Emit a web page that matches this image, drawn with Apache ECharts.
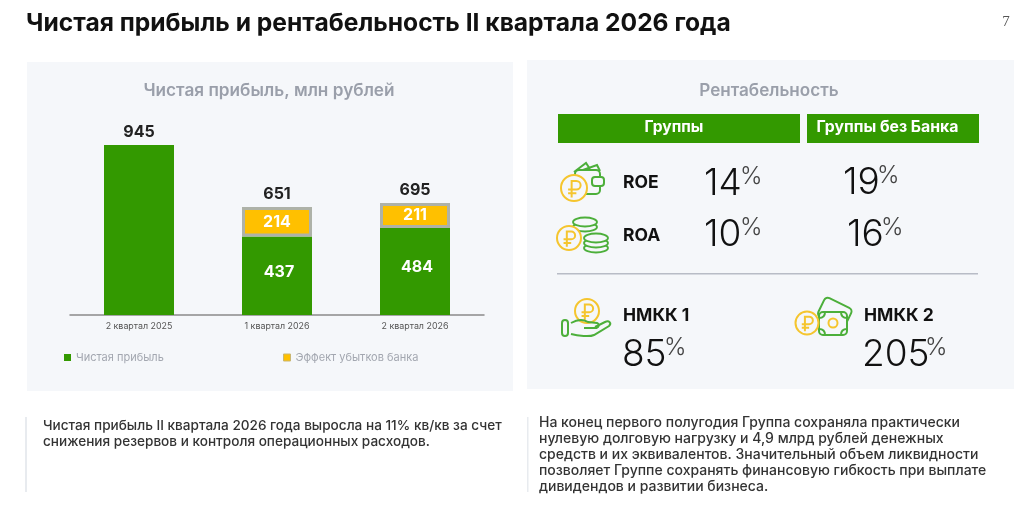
<!DOCTYPE html>
<html><head><meta charset="utf-8">
<style>html,body{margin:0;padding:0;background:#fff}#c{width:1024px;height:524px}</style>
<script src="https://cdn.jsdelivr.net/npm/echarts@6/dist/echarts.min.js"></script>
</head><body><div id="c"></div>
<script>
const categories = ['2 квартал 2025', '1 квартал 2026', '2 квартал 2026'];
const netProfit = [945, 437, 484];
// Heights of the yellow blocks as drawn in the picture (the source slide does not draw them to scale)
const bankEffectDrawn = [null, 163, 138];
const bankEffectLabels = ['', '214', '211'];
const totalLabels = ['945', '651', '695'];
const seriesNames = ['Чистая прибыль', 'Эффект убытков банка'];
const pageTitle = 'Чистая прибыль и рентабельность II квартала 2026 года';
const pageNumber = '7';
const chartTitle = 'Чистая прибыль, млн рублей';
const panelTitle = 'Рентабельность';
const columnHeads = ['Группы', 'Группы без Банка'];
const leftNote = ['Чистая прибыль II квартала 2026 года выросла на 11% кв/кв за счет',
  'снижения резервов и контроля операционных расходов.'];
const rightNote = ['На конец первого полугодия Группа сохраняла практически',
  'нулевую долговую нагрузку и 4,9 млрд рублей денежных',
  'средств и их эквивалентов. Значительный объем ликвидности',
  'позволяет Группе сохранять финансовую гибкость при выплате',
  'дивидендов и развитии бизнеса.'];

const F = 'Inter, "Noto Sans", sans-serif';
const GREEN = '#339900', YEL = '#ffc000', ICG = '#4caf3a', ICY = '#f5c52e', BG = '#f5f7fa';
const el = [];
let pid = 0;
const rect = (x, y, w, h, fill, z) => el.push({type:'rect', z: z||0, silent:true, shape:{x,y,width:w,height:h}, style:{fill}});
const text = (x, y, t, font, fill, align) => el.push({type:'text', z:5, silent:true, x, y, style:{text:t, font, fill, align:align||'left', verticalAlign:'middle'}});
const circle = (cx, cy, r, stroke, lw) => el.push({type:'circle', z:4, silent:true, shape:{cx,cy,r}, style:{fill:BG, stroke, lineWidth:lw||2}});
const rrect = (x, y, w, h, r, stroke, lw, z) => el.push({type:'rect', z:z||3, silent:true, shape:{x,y,width:w,height:h,r}, style:{fill:BG, stroke, lineWidth:lw||2}});
const ell = (cx, cy, rx, ry, stroke) => el.push({type:'ellipse', z:3, silent:true, shape:{cx,cy,rx,ry}, style:{fill:BG, stroke, lineWidth:1.8}});
function line(d, stroke, lw, z) {
  const name = 'iconpath' + (pid++);
  echarts.graphic.registerShape(name, echarts.graphic.extendPath(d, {}));
  el.push({type:name, z:z||3, silent:true, style:{fill:'none', stroke, lineWidth:lw||2}});
}
function coin(cx, cy, r) {
  circle(cx, cy, r, ICY, 2);
  const s = r / 11;
  line(`M${cx-2*s} ${cy+8*s}L${cx-2*s} ${cy-6*s}L${cx+2*s} ${cy-6*s}A${3.6*s} ${3.6*s} 0 0 1 ${cx+2*s} ${cy+1.2*s}L${cx-5*s} ${cy+1.2*s}M${cx-5*s} ${cy+4.5*s}L${cx+2*s} ${cy+4.5*s}`, ICY, 2, 5);
}

// page frame
rect(27, 62, 486, 329, BG, -1);
rect(527, 60, 487, 329, BG, -1);
rect(25, 417, 2, 75, '#e8ebef', -1);
rect(527, 417, 1.5, 75, '#e8ebef', -1);
text(26, 24, pageTitle, '700 24.6px ' + F, '#111');
text(1006, 22, pageNumber, '15px "Liberation Serif", serif', '#555', 'center');
text(269, 91, chartTitle, '600 17.2px ' + F, '#9a9faa', 'center');
text(769, 91, panelTitle, '600 17.1px ' + F, '#9a9faa', 'center');

// column heads
rect(558, 114, 242, 29, GREEN);
rect(807, 114, 172, 29, GREEN);
text(674, 127, columnHeads[0], '700 15.6px ' + F, '#fff', 'center');
text(887.5, 127, columnHeads[1], '700 15.8px ' + F, '#fff', 'center');

// metrics
const big = '300 37px ' + F, pct = '300 24px ' + F, lab = '700 17.5px ' + F;
text(623, 183, 'ROE', lab, '#111');
text(623, 236, 'ROA', lab, '#111');
text(704, 184, '14', big, '#111'); text(740, 177, '%', pct, '#444');
text(843, 183, '19', big, '#111'); text(877, 176, '%', pct, '#444');
text(704, 235, '10', big, '#111'); text(740, 228, '%', pct, '#444');
text(847, 235, '16', big, '#111'); text(881, 228, '%', pct, '#444');
rect(557, 273, 421, 1.5, '#b8bcc6');
text(623, 316, 'НМКК 1', lab, '#111');
text(864, 316, 'НМКК 2', lab, '#111');
text(622, 355, '85', big, '#111'); text(664, 348, '%', pct, '#444');
text(862, 355, '205', big, '#111'); text(925, 348, '%', pct, '#444');

// notes
leftNote.forEach((t, i) => text(43, 426 + i * 15.7, t, '500 13.6px ' + F, '#333'));
rightNote.forEach((t, i) => text(539, 423 + i * 16, t, '500 14px ' + F, '#333'));

// ROE icon: wallet
line('M574 172L586 163L590 169M583 170L597 165L600 171', ICG);
rrect(575, 170, 25, 24, 4, ICG);
rrect(592, 177, 12, 9, 3, ICG);
coin(574, 188, 13);
// ROA icon: coins
ell(585, 227, 12, 4.5, ICG); ell(585, 222, 12, 4.5, ICG);
ell(596, 248, 12, 4.5, ICG); ell(596, 243, 12, 4.5, ICG); ell(596, 238, 12, 4.5, ICG);
coin(569, 238, 12);
// НМКК 1 icon: hand with coin
coin(587, 311, 12);
rrect(562, 320, 6, 16, 3, ICG);
line('M571 323C578 319 583 319 588 322L597 323C600 324 599 328 595 328L584 328M595 327L605 322C609 320 612 323 609 326L594 335C590 337 578 336 571 334', ICG, 2, 6);
// НМКК 2 icon: banknotes
el.push({type:'rect', z:2, silent:true, rotation:-0.45, originX:835, originY:312, shape:{x:820,y:302,width:30,height:21,r:4}, style:{fill:BG, stroke:ICG, lineWidth:2}});
rrect(819, 312, 28, 23, 4, ICG);
line('M819 318C823 318 825 316 825 312M841 312C841 316 843 318 847 318M819 329C823 329 825 331 825 335M841 335C841 331 843 329 847 329', ICG);
el.push({type:'circle', z:4, silent:true, shape:{cx:833, cy:323, r:4.5}, style:{fill:'none', stroke:ICY, lineWidth:2}});
coin(807, 323, 11.5);

const labelFont = {fontFamily:F, fontWeight:700};
const chart = echarts.init(document.getElementById('c'), null, {renderer:'canvas'});
chart.setOption({
  animation:false,
  backgroundColor:'#fff',
  graphic:{elements:el},
  grid:{left:70, width:414, top:145, height:170, containLabel:false},
  xAxis:{type:'category', data:categories,
    axisLine:{lineStyle:{color:'#8a8a8a', width:1.5}}, axisTick:{show:false},
    axisLabel:{color:'#555', fontFamily:F, fontSize:8.9, margin:7}},
  yAxis:{type:'value', min:0, max:945, show:false},
  legend:[
    {data:[seriesNames[0]], left:59, top:347, itemWidth:7, itemHeight:7, icon:'rect', itemGap:0,
     textStyle:{color:'#a3a7b0', fontFamily:F, fontSize:11}},
    {data:[seriesNames[1]], left:278, top:347, itemWidth:7, itemHeight:7, icon:'rect', itemGap:0,
     itemStyle:{borderWidth:1, borderColor:'#c9b671', color:YEL},
     textStyle:{color:'#a3a7b0', fontFamily:F, fontSize:11}}
  ],
  series:[
    {name:seriesNames[0], type:'bar', stack:'t', barWidth:70, data:netProfit, itemStyle:{color:GREEN},
     label:{show:true, position:'inside', offset:[2,-4], color:'#fff', fontSize:16, ...labelFont,
       formatter:p => p.dataIndex === 0 ? '' : String(p.value)}},
    {name:seriesNames[1], type:'bar', stack:'t', barWidth:70, data:bankEffectDrawn,
     itemStyle:{color:YEL, borderColor:'#aeb2a8', borderWidth:3},
     label:{show:true, position:'inside', color:'#fff', fontSize:16, ...labelFont,
       formatter:p => bankEffectLabels[p.dataIndex]}},
    {name:'Итого', type:'bar', stack:'t', barWidth:70, data:[0,0,0], itemStyle:{color:'transparent', borderWidth:0},
     label:{show:true, position:'top', distance:5, color:'#222', fontSize:16, ...labelFont,
       formatter:p => totalLabels[p.dataIndex]}}
  ]
});
</script></body></html>
